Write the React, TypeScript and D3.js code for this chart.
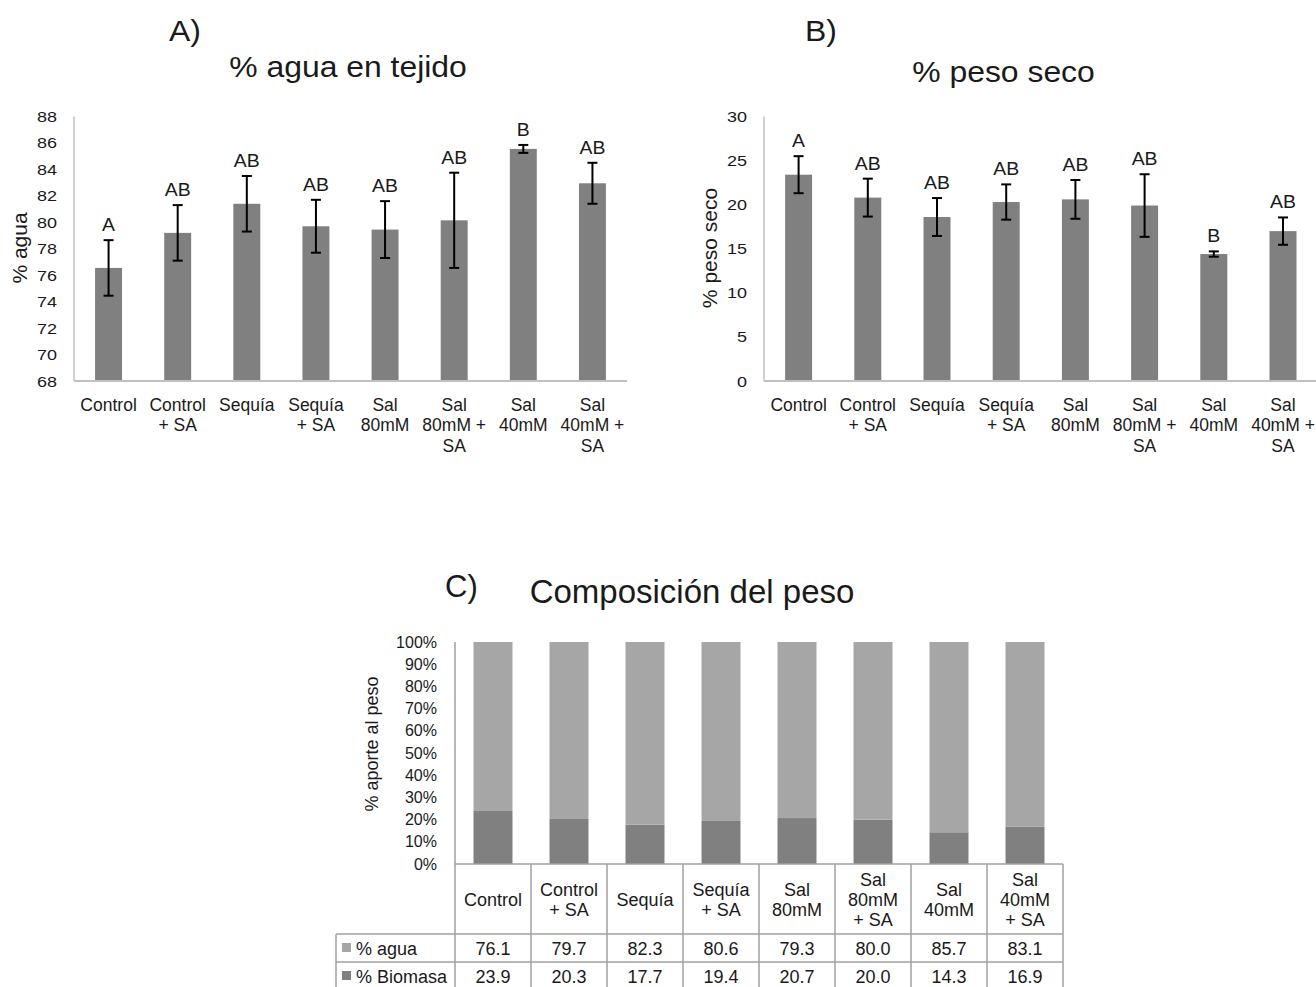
import React from "react";
import * as d3 from "d3";

// ---------- DATA ----------
const treatments = ["Control", "Control + SA", "Sequía", "Sequía + SA", "Sal 80mM", "Sal 80mM + SA", "Sal 40mM", "Sal 40mM + SA"];
const axisLabelLines = [["Control"], ["Control", "+ SA"], ["Sequía"], ["Sequía", "+ SA"], ["Sal", "80mM"], ["Sal", "80mM +", "SA"], ["Sal", "40mM"], ["Sal", "40mM +", "SA"]];
const tableLabelLines = [["Control"], ["Control", "+ SA"], ["Sequía"], ["Sequía", "+ SA"], ["Sal", "80mM"], ["Sal", "80mM", "+ SA"], ["Sal", "40mM"], ["Sal", "40mM", "+ SA"]];

const aguaMean = [76.55, 79.2, 81.4, 79.7, 79.45, 80.15, 85.55, 82.95];
const aguaErr = [2.1, 2.1, 2.1, 2.0, 2.15, 3.6, 0.3, 1.55];
const aguaLetters = ["A", "AB", "AB", "AB", "AB", "AB", "B", "AB"];
const aguaTicks = [68, 70, 72, 74, 76, 78, 80, 82, 84, 86, 88];

const pesoMean = [23.4, 20.8, 18.6, 20.3, 20.6, 19.9, 14.4, 17.0];
const pesoErr = [2.1, 2.15, 2.15, 2.0, 2.2, 3.55, 0.3, 1.55];
const pesoLetters = ["A", "AB", "AB", "AB", "AB", "AB", "B", "AB"];
const pesoTicks = [0, 5, 10, 15, 20, 25, 30];

const compAgua = [76.1, 79.7, 82.3, 80.6, 79.3, 80.0, 85.7, 83.1];
const compBiomasa = [23.9, 20.3, 17.7, 19.4, 20.7, 20.0, 14.3, 16.9];
const compTicks = [0, 10, 20, 30, 40, 50, 60, 70, 80, 90, 100];
const seriesNames = ["% agua", "% Biomasa"];

// ---------- STYLE ----------
const FONT = "'Liberation Sans', Arial, sans-serif";
const BAR = "#808080";
const LIGHT = "#a6a6a6";
const AXIS = "#c0c0c0";
const GRID = "#a0a0a0";
const TXT = "#1a1a1a";

function T({ x, y, sx = 1, size, anchor = "start", children, rotate = 0, fill = TXT }: any) {
  return (
    <text
      transform={`translate(${x},${y}) rotate(${rotate}) scale(${sx},1)`}
      textAnchor={anchor}
      fontSize={size}
      fontFamily={FONT}
      fill={fill}
    >
      {children}
    </text>
  );
}

function BarPanel({ range, domain, means, errs, letters, ticks, yLabel, yLabelX, tickFmt }: any) {
  const x = d3.scaleBand<number>().domain(d3.range(means.length)).range(range).paddingInner(0.61).paddingOuter(0.305);
  const y = d3.scaleLinear().domain(domain).range([381, 116.5]);
  const x0 = range[0];
  const x1 = Math.min(range[1], 1316);
  return (
    <g>
      {ticks.map((t: number) => (
        <T key={t} x={x0 - 17} y={y(t) + 5.5} sx={1.2} size={15} anchor="end">{tickFmt ? tickFmt(t) : t}</T>
      ))}
      <line x1={x0} x2={x0} y1={y(domain[1])} y2={y(domain[0])} stroke={AXIS} strokeWidth={1.5} />
      {means.map((m: number, i: number) => {
        const cx = x(i)! + x.bandwidth() / 2;
        const top = y(m + errs[i]);
        const bot = y(m - errs[i]);
        return (
          <g key={i}>
            <rect x={x(i)} y={y(m)} width={x.bandwidth()} height={y(domain[0]) - y(m)} fill={BAR} />
            <line x1={cx} x2={cx} y1={top} y2={bot} stroke="#000" strokeWidth={2} />
            <line x1={cx - 5} x2={cx + 5} y1={top} y2={top} stroke="#000" strokeWidth={2} />
            <line x1={cx - 5} x2={cx + 5} y1={bot} y2={bot} stroke="#000" strokeWidth={2} />
            <T x={cx} y={top - 9} size={18} sx={1.08} anchor="middle">{letters[i]}</T>
            {axisLabelLines[i].map((ln, k) => (
              <T key={k} x={cx} y={410.5 + k * 20.5} size={17.5} anchor="middle">{ln}</T>
            ))}
          </g>
        );
      })}
      <line x1={x0} x2={x1} y1={y(domain[0])} y2={y(domain[0])} stroke={AXIS} strokeWidth={2} />
      <T x={yLabelX} y={248} size={21} anchor="middle" rotate={-90}>{yLabel}</T>
    </g>
  );
}

function CompPanel() {
  const x = d3.scaleBand<number>().domain(d3.range(compAgua.length)).range([455, 1063]).paddingInner(0.487).paddingOuter(0.2435);
  const y = d3.scaleLinear().domain([0, 100]).range([864, 642]);
  const step = x.step();
  const left = 455;
  const right = left + step * compAgua.length;
  const rowTop = [864, 934, 962, 990];
  const stack = compBiomasa.map((b, i) => ({ b, a: compAgua[i] }));
  return (
    <g>
      {compTicks.map((t) => (
        <T key={t} x={437} y={y(t) + 5.5} size={16} anchor="end">{t + "%"}</T>
      ))}
      {stack.map((s, i) => (
        <g key={i}>
          <rect x={x(i)} y={y(s.b)} width={x.bandwidth()} height={y(0) - y(s.b)} fill={BAR} />
          <rect x={x(i)} y={y(s.b + s.a)} width={x.bandwidth()} height={y(s.b) - y(s.b + s.a)} fill={LIGHT} />
        </g>
      ))}
      {/* axis & table grid */}
      <line x1={left} x2={left} y1={642} y2={990} stroke={GRID} strokeWidth={1.5} />
      {d3.range(1, compAgua.length + 1).map((k) => (
        <line key={k} x1={left + k * step} x2={left + k * step} y1={864} y2={990} stroke={GRID} strokeWidth={1.5} />
      ))}
      <line x1={left} x2={right} y1={864} y2={864} stroke={GRID} strokeWidth={1.5} />
      {rowTop.slice(1).map((r) => (
        <line key={r} x1={336} x2={right} y1={r} y2={r} stroke={GRID} strokeWidth={1.5} />
      ))}
      <line x1={336} x2={336} y1={934} y2={990} stroke={GRID} strokeWidth={1.5} />
      {/* header */}
      {tableLabelLines.map((lines, i) => {
        const cx = x(i)! + x.bandwidth() / 2;
        const n = lines.length;
        return lines.map((ln, k) => (
          <T key={i + "-" + k} x={cx} y={899 + (k - (n - 1) / 2) * 20 + 6.5} size={18} anchor="middle">{ln}</T>
        ));
      })}
      {/* values */}
      {[compAgua, compBiomasa].map((row, r) =>
        row.map((v, i) => (
          <T key={r + "-" + i} x={x(i)! + x.bandwidth() / 2} y={(rowTop[r + 1] + rowTop[r + 2]) / 2 + 6.5} size={18} anchor="middle">{v.toFixed(1)}</T>
        ))
      )}
      {seriesNames.map((nm, r) => {
        const cy = (rowTop[r + 1] + rowTop[r + 2]) / 2;
        return (
          <g key={nm}>
            <rect x={342} y={cy - 5} width={9} height={9} fill={r === 0 ? LIGHT : BAR} />
            <T x={356} y={cy + 6.5} size={18}>{nm}</T>
          </g>
        );
      })}
      <T x={378} y={744} size={18} anchor="middle" rotate={-90}>% aporte al peso</T>
    </g>
  );
}

export default function App() {
  return (
    <svg width={1316} height={987} style={{ position: "absolute", left: 0, top: 0, background: "#fff" }}>
      <rect width={1316} height={987} fill="#fff" />
      <T x={169} y={41} size={29} sx={1.1}>A)</T>
      <T x={348} y={77} size={29} sx={1.1} anchor="middle">% agua en tejido</T>
      <T x={805} y={41} size={29} sx={1.1}>B)</T>
      <T x={1003.5} y={81.5} size={29} sx={1.1} anchor="middle">% peso seco</T>
      <T x={445} y={597} size={31}>C)</T>
      <T x={692} y={603} size={33} anchor="middle">Composición del peso</T>
      <BarPanel range={[74, 627]} domain={[68, 88]} means={aguaMean} errs={aguaErr} letters={aguaLetters} ticks={aguaTicks} yLabel="% agua" yLabelX={27} />
      <BarPanel range={[764, 1317.6]} domain={[0, 30]} means={pesoMean} errs={pesoErr} letters={pesoLetters} ticks={pesoTicks} yLabel="% peso seco" yLabelX={717} />
      <CompPanel />
    </svg>
  );
}
